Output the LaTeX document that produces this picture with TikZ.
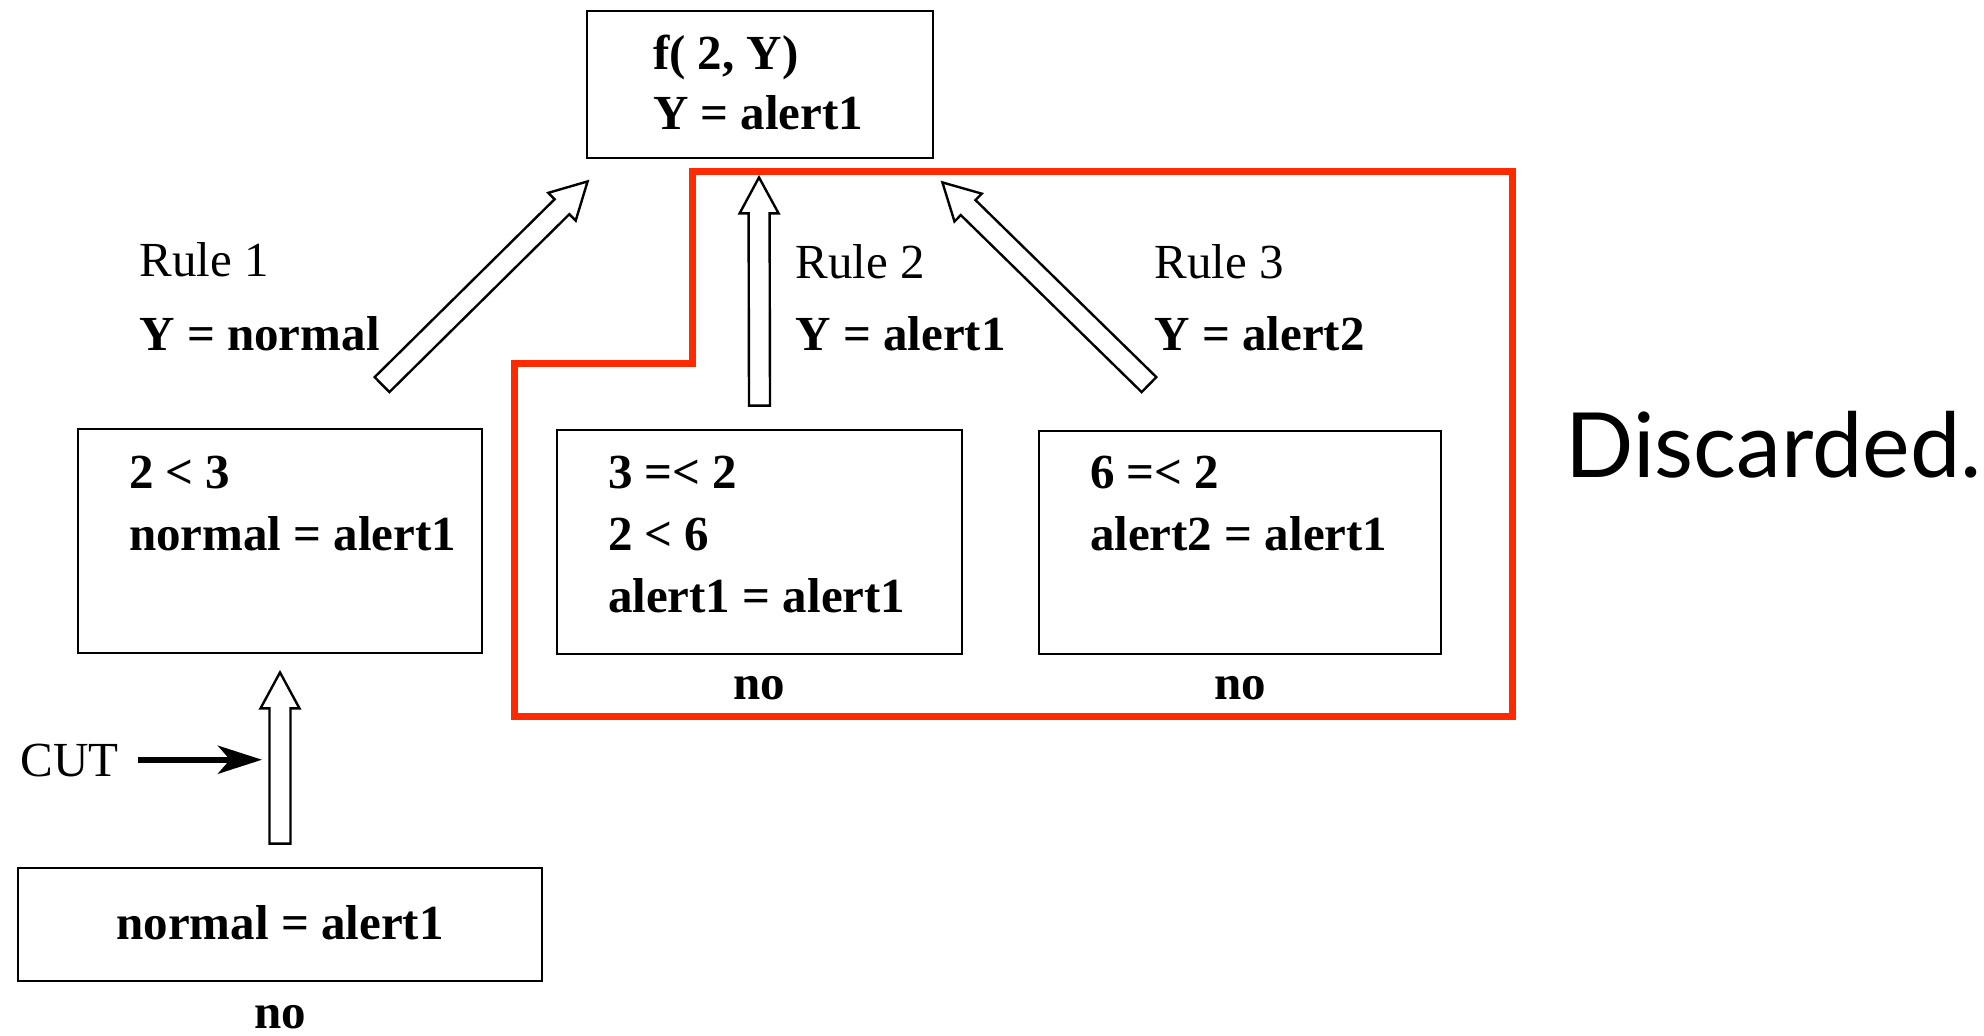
\documentclass[tikz,border=0pt]{standalone}
\usepackage{fontspec}
\setmainfont{Liberation Serif}
\newfontfamily\discfont{Lato}
\usetikzlibrary{calc,arrows.meta}
\definecolor{cutred}{HTML}{FF2A00}

% hollow block arrow from #1 (tail) to #2 (tip)
\newcommand\blockarrow[2]{%
  \coordinate (hb) at ($(#2)!18pt!(#1)$);
  \draw[blk] ($(#1)!5.25pt!90:(#2)$) -- ($(hb)!5.25pt!90:(#2)$) -- ($(hb)!9.75pt!90:(#2)$)
    -- (#2) -- ($(hb)!9.75pt!-90:(#2)$) -- ($(hb)!5.25pt!-90:(#2)$)
    -- ($(#1)!5.25pt!-90:(#2)$) -- cycle;
}

\begin{document}
\begin{tikzpicture}[x=0.5pt,y=-0.5pt,
  box/.style={draw=black, line width=1.4pt, inner sep=0},
  bt/.style={font=\fontsize{24.5}{28}\selectfont\bfseries, inner sep=0, anchor=base west},
  rt/.style={font=\fontsize{24.5}{28}\selectfont, inner sep=0, anchor=base west},
  blk/.style={draw=black, fill=white, line width=1.2pt, line join=miter},
]
\useasboundingbox[fill=white] (0,0) rectangle (1984,1035);

% boxes
\node[box, minimum width=173pt, minimum height=73.5pt] (top) at (760,84.5) {};
\node[box, minimum width=202pt, minimum height=112pt] (b1) at (280,541) {};
\node[box, minimum width=202.5pt, minimum height=112pt] (b2) at (759.5,542) {};
\node[box, minimum width=201pt, minimum height=111.5pt] (b3) at (1240,542.5) {};
\node[box, minimum width=262pt, minimum height=56.5pt] (b4) at (280,924.5) {};

% box contents
\node[bt] (t1) at ($(top.north west)+(67,60)$) {f( 2, Y)};
\node[bt] (t2) at ($(top.north west)+(67,120)$) {Y = alert1};
\node[bt] (p1) at ($(b1.north west)+(52,61)$) {2 < 3};
\node[bt] (p2) at ($(b1.north west)+(52,123)$) {normal = alert1};
\node[bt] (q1) at ($(b2.north west)+(52,60)$) {3 =< 2};
\node[bt] (q2) at ($(b2.north west)+(52,122)$) {2 < 6};
\node[bt] (q3) at ($(b2.north west)+(52,184)$) {alert1 = alert1};
\node[bt] (r1) at ($(b3.north west)+(52,59)$) {6 =< 2};
\node[bt] (r2) at ($(b3.north west)+(52,121)$) {alert2 = alert1};
\node[bt, anchor=base] (s1) at ($(b4.center)+(0,15)$) {normal = alert1};

% failure marks
\node[bt, anchor=base] (no2) at ($(b2.south)+(0,44)$) {no};
\node[bt, anchor=base] (no3) at ($(b3.south)+(0,44)$) {no};
\node[bt, anchor=base] (no4) at ($(b4.south)+(0,46)$) {no};

% rule labels
\node[rt] (rule1) at (139,276) {Rule 1};
\node[bt] (bind1) at (139,350) {Y = normal};
\node[rt] (rule2) at (795,278) {Rule 2};
\node[bt] (bind2) at (795,350) {Y = alert1};
\node[rt] (rule3) at (1154,278) {Rule 3};
\node[bt] (bind3) at (1154,350) {Y = alert2};

% discarded branches
\draw[cutred, line width=3.5pt, line join=miter]
  (514,363) -- (514,716) -- (1512,716) -- (1512,171) -- (692,171) -- (692,363) -- cycle;

% arrow end points
\coordinate (a1s) at ($(b1.north)+(102,-43)$);
\coordinate (a1e) at ($(top.south west)+(2,22)$);
\coordinate (a2s) at ($(b2.north)+(0,-23)$);
\coordinate (a2e) at ($(top.south)+(-1,18)$);
\coordinate (a3s) at ($(b3.north)+(-91,-45)$);
\coordinate (a3e) at ($(top.south east)+(8,23)$);
\coordinate (a4s) at ($(b4.north)+(0,-23)$);
\coordinate (a4e) at ($(b1.south)+(0,18)$);

\blockarrow{a1s}{a1e}
\blockarrow{a2s}{a2e}
\blockarrow{a3s}{a3e}
\blockarrow{a4s}{a4e}

% cut marker
\node[rt] (cut) at (20,776) {CUT};
\coordinate (cutend) at ($($(a4s)!0.49!(a4e)$)+(-18,0)$);
\draw[line width=3pt, -{Stealth[length=22pt, width=14pt, inset=6pt]}]
  ($(cut.east |- cutend)+(19,0)$) -- (cutend);

\node[font=\discfont\fontsize{45}{50}\selectfont, inner sep=0, anchor=base west] (disc) at (1565,477) {Discarded.};
\end{tikzpicture}
\end{document}
